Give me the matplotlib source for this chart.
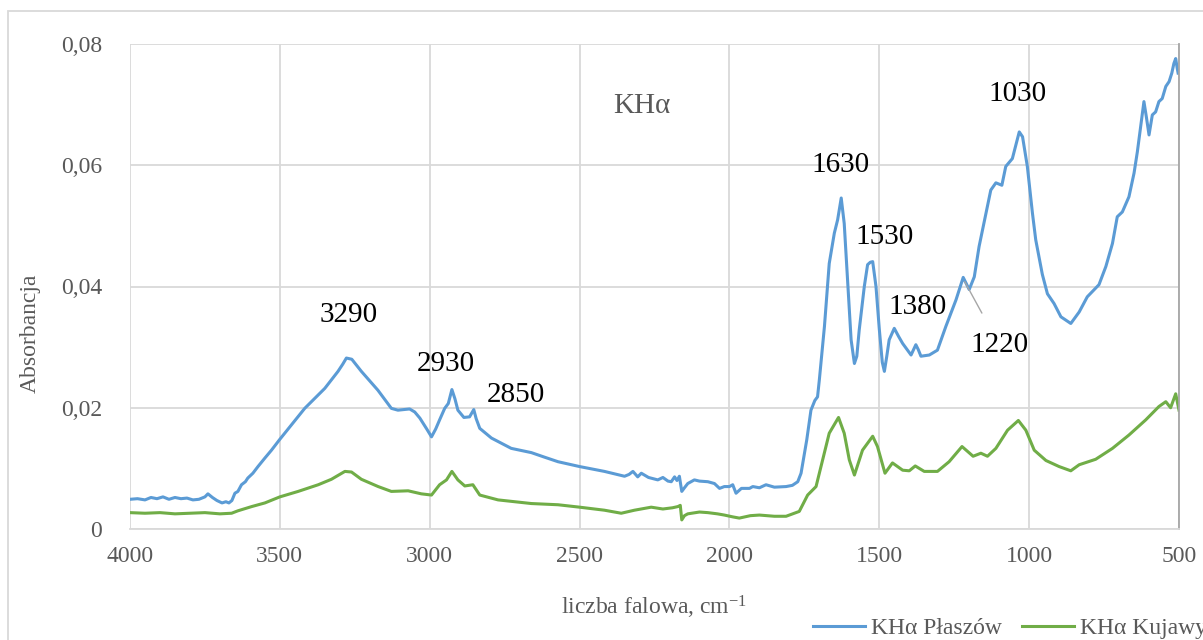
import matplotlib
matplotlib.use("Agg")
import matplotlib.pyplot as plt
from matplotlib.patches import Rectangle

# FTIR spectrum, KHα Płaszów (wavenumber in cm-1, absorbance)
wn_plaszow = [
    4000, 3975, 3950, 3930, 3910, 3890, 3870, 3850, 3830, 3810, 3790, 3770,
    3750, 3740, 3725, 3710, 3693, 3680, 3670, 3660, 3650, 3640, 3628, 3615,
    3607, 3590, 3573, 3550, 3528, 3500, 3461, 3417, 3350, 3306, 3290, 3278,
    3260, 3228, 3173, 3128, 3106, 3067, 3050, 3033, 3010, 2994, 2980, 2967,
    2950, 2938, 2926, 2916, 2906, 2886, 2867, 2853, 2845, 2833, 2794, 2728,
    2661, 2620, 2572, 2500, 2417, 2350, 2335, 2322, 2306, 2294, 2270, 2239,
    2222, 2205, 2194, 2183, 2175, 2167, 2159, 2150, 2139, 2117, 2100, 2072,
    2050, 2033, 2017, 2000, 1989, 1978, 1960, 1933, 1922, 1900, 1878, 1850,
    1811, 1790, 1772, 1761, 1742, 1728, 1715, 1706, 1700, 1683, 1667, 1650,
    1639, 1627, 1617, 1606, 1594, 1583, 1575, 1567, 1550, 1539, 1530, 1522,
    1511, 1500, 1490, 1483, 1475, 1467, 1450, 1436, 1422, 1394, 1378, 1370,
    1361, 1333, 1306, 1278, 1244, 1220, 1200, 1183, 1167, 1144, 1128, 1111,
    1091, 1078, 1056, 1033, 1022, 1006, 989, 978, 956, 939, 917, 894,
    861, 833, 806, 767, 744, 722, 706, 689, 667, 650, 639, 628,
    617, 609, 600, 589, 578, 567, 556, 544, 533, 524, 517, 511,
    506, 503,
]
abs_plaszow = [
    0.0049, 0.0050, 0.0048, 0.0052, 0.0050, 0.0053, 0.0049, 0.0052, 0.0050, 0.0051, 0.0048, 0.0049,
    0.0053, 0.0058, 0.0052, 0.0047, 0.0043, 0.0045, 0.0043, 0.0047, 0.0059, 0.0062, 0.0073, 0.0078,
    0.0084, 0.0092, 0.0103, 0.0117, 0.0130, 0.0148, 0.0172, 0.0199, 0.0232, 0.0260, 0.0272, 0.0282,
    0.0280, 0.0260, 0.0229, 0.0199, 0.0196, 0.0198, 0.0193, 0.0183, 0.0165, 0.0152, 0.0165, 0.0180,
    0.0199, 0.0207, 0.0230, 0.0215, 0.0196, 0.0184, 0.0185, 0.0197, 0.0182, 0.0166, 0.0150, 0.0133,
    0.0126, 0.0119, 0.0111, 0.0103, 0.0095, 0.0087, 0.0090, 0.0095, 0.0086, 0.0092, 0.0085, 0.0081,
    0.0085, 0.0079, 0.0078, 0.0086, 0.0080, 0.0087, 0.0062, 0.0068, 0.0075, 0.0081, 0.0079, 0.0078,
    0.0075, 0.0067, 0.0070, 0.0070, 0.0073, 0.0059, 0.0067, 0.0067, 0.0070, 0.0068, 0.0073, 0.0069,
    0.0070, 0.0072, 0.0078, 0.0092, 0.0147, 0.0196, 0.0212, 0.0218, 0.0246, 0.0334, 0.0438, 0.0488,
    0.0510, 0.0546, 0.0504, 0.0411, 0.0312, 0.0273, 0.0285, 0.0328, 0.0400, 0.0436, 0.0440, 0.0441,
    0.0400, 0.0330, 0.0275, 0.0260, 0.0285, 0.0312, 0.0331, 0.0318, 0.0306, 0.0287, 0.0304, 0.0296,
    0.0285, 0.0287, 0.0295, 0.0334, 0.0378, 0.0415, 0.0395, 0.0416, 0.0466, 0.0521, 0.0559, 0.0571,
    0.0567, 0.0598, 0.0611, 0.0655, 0.0647, 0.0598, 0.0521, 0.0477, 0.0420, 0.0388, 0.0372, 0.0350,
    0.0339, 0.0358, 0.0383, 0.0403, 0.0433, 0.0471, 0.0515, 0.0523, 0.0548, 0.0587, 0.0622, 0.0664,
    0.0705, 0.0680, 0.0650, 0.0683, 0.0688, 0.0705, 0.0710, 0.0730, 0.0738, 0.0752, 0.0768, 0.0776,
    0.0760, 0.0752,
]

# FTIR spectrum, KHα Kujawy
wn_kujawy = [
    4000, 3950, 3900, 3850, 3800, 3750, 3700, 3661, 3640, 3594, 3550, 3500,
    3439, 3372, 3328, 3283, 3261, 3228, 3172, 3128, 3072, 3028, 2994, 2967,
    2944, 2926, 2906, 2883, 2856, 2833, 2772, 2661, 2572, 2500, 2417, 2361,
    2317, 2261, 2222, 2190, 2172, 2164, 2159, 2150, 2139, 2100, 2072, 2040,
    2017, 1989, 1967, 1930, 1900, 1850, 1811, 1767, 1739, 1711, 1689, 1667,
    1636, 1617, 1600, 1583, 1556, 1522, 1506, 1481, 1456, 1422, 1400, 1380,
    1350, 1306, 1267, 1224, 1187, 1161, 1139, 1111, 1072, 1036, 1011, 983,
    944, 900, 861, 833, 778, 722, 667, 611, 567, 544, 528, 511,
    500,
]
abs_kujawy = [
    0.0027, 0.0026, 0.0027, 0.0025, 0.0026, 0.0027, 0.0025, 0.0026, 0.0030, 0.0037, 0.0043, 0.0053,
    0.0062, 0.0073, 0.0082, 0.0095, 0.0094, 0.0082, 0.0070, 0.0062, 0.0063, 0.0058, 0.0056, 0.0073,
    0.0081, 0.0095, 0.0081, 0.0071, 0.0073, 0.0056, 0.0048, 0.0042, 0.0040, 0.0036, 0.0031, 0.0026,
    0.0031, 0.0036, 0.0033, 0.0035, 0.0037, 0.0039, 0.0015, 0.0022, 0.0025, 0.0028, 0.0027, 0.0025,
    0.0023, 0.0020, 0.0018, 0.0022, 0.0023, 0.0021, 0.0021, 0.0029, 0.0056, 0.0070, 0.0114, 0.0158,
    0.0184, 0.0158, 0.0114, 0.0089, 0.0130, 0.0153, 0.0136, 0.0092, 0.0109, 0.0097, 0.0096, 0.0104,
    0.0095, 0.0095, 0.0111, 0.0136, 0.0120, 0.0125, 0.0120, 0.0133, 0.0163, 0.0179, 0.0163, 0.0130,
    0.0113, 0.0103, 0.0096, 0.0106, 0.0115, 0.0133, 0.0155, 0.0180, 0.0202, 0.0210, 0.0200, 0.0223,
    0.0196,
]

# Band labels: text, label position (wavenumber, absorbance)
band_labels = ["3290", "2930", "2850", "1630", "1530", "1380", "1030"]
band_label_x = [3270, 2947, 2713, 1630, 1483, 1373, 1040]
band_label_y = [0.0353, 0.0272, 0.0221, 0.0601, 0.0482, 0.0367, 0.0718]

x_ticks = [4000, 3500, 3000, 2500, 2000, 1500, 1000, 500]
y_ticks = [0, 0.02, 0.04, 0.06, 0.08]
y_tick_labels = ["0", "0,02", "0,04", "0,06", "0,08"]

BLUE = "#5B9BD5"
GREEN = "#70AD47"
GREY_TEXT = "#595959"
GRID = "#d9d9d9"

plt.rcParams["font.family"] = ["Liberation Serif", "DejaVu Serif"]
plt.rcParams["mathtext.fontset"] = "custom"
plt.rcParams["mathtext.rm"] = "Liberation Serif"
plt.rcParams["mathtext.it"] = "Liberation Serif:italic"
plt.rcParams["mathtext.default"] = "rm"

fig = plt.figure(figsize=(12.03, 6.40), dpi=100)
ax = fig.add_axes([130 / 1203, 111 / 640, 1049 / 1203, 485 / 640])

ax.plot(wn_plaszow, abs_plaszow, color=BLUE, lw=2.2, label="KHα Płaszów",
        solid_joinstyle="round")
ax.plot(wn_kujawy, abs_kujawy, color=GREEN, lw=2.2, label="KHα Kujawy",
        solid_joinstyle="round")

ax.set_xlim(4000, 500)
ax.set_ylim(0, 0.08)
ax.set_xticks(x_ticks)
ax.set_xticklabels([str(t) for t in x_ticks])
ax.set_yticks(y_ticks)
ax.set_yticklabels(y_tick_labels)
ax.tick_params(axis="both", length=0, labelsize=17, colors=GREY_TEXT)
ax.tick_params(axis="x", pad=12)
ax.tick_params(axis="y", pad=20)

ax.grid(True, color=GRID, lw=1.3)
ax.set_axisbelow(True)
for side in ("left", "top"):
    ax.spines[side].set_visible(False)
ax.spines["bottom"].set_color(GRID)
ax.spines["bottom"].set_linewidth(1.3)
ax.spines["right"].set_color("#a6a6a6")
ax.spines["right"].set_linewidth(1.3)

ax.set_xlabel("liczba falowa, cm$^{\\mathrm{-1}}$", fontsize=17, color=GREY_TEXT)
ax.xaxis.set_label_coords(0.5, -0.161)
ax.xaxis.label.set_va("center")
ax.set_ylabel("Absorbancja", fontsize=17, color=GREY_TEXT)
ax.yaxis.set_label_coords(-0.095, 0.404)
ax.yaxis.label.set_va("center")

ax.text(2293, 0.0698, "KHα", fontsize=21, color=GREY_TEXT, ha="center", va="center")
for txt, lx, ly in zip(band_labels, band_label_x, band_label_y):
    ax.text(lx, ly, txt, fontsize=21, color="black", ha="center", va="center")

# 1220 label with a leader line to the shoulder
ax.annotate("1220", xy=(1215, 0.0408), xytext=(1100, 0.0304),
            fontsize=21, color="black", ha="center", va="center",
            arrowprops=dict(arrowstyle="-", color="#a6a6a6", lw=1.0,
                            shrinkA=13, shrinkB=0))

fig.legend(loc="center left", bbox_to_anchor=(813 / 1203, 12 / 640),
           ncol=2, frameon=False, fontsize=17, handlelength=2.2,
           handletextpad=0.25, columnspacing=0.85, borderpad=0,
           borderaxespad=0, labelcolor=GREY_TEXT)

# chart-area border
fig.add_artist(Rectangle((8 / 1203, -0.1), 1.2, (640 - 11) / 640 + 0.1,
                         transform=fig.transFigure, fill=False,
                         edgecolor=GRID, lw=1.3, clip_on=False))

fig.savefig("out.png", dpi=100)
